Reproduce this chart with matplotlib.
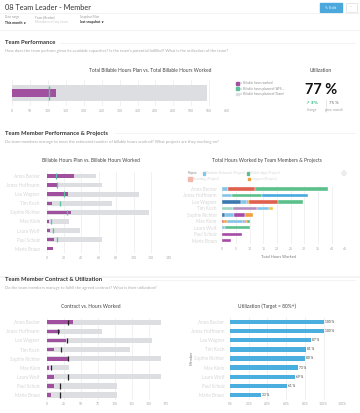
import numpy as np
import matplotlib
matplotlib.use('Agg')
import matplotlib.pyplot as plt
from matplotlib.patches import Rectangle

plt.rcParams['font.family'] = ['Lato', 'DejaVu Sans']

W, H = 360, 413

# ---- data ----
members = ['Anna Becker', 'Jonas Hoffmann', 'Lea Wagner', 'Tim Koch', 'Sophie Richter',
           'Max Klein', 'Laura Wolf', 'Paul Schulz', 'Marie Braun']

total_plan_team = 543
total_worked = 121
total_plan_wfs = 103
util_now = 77
util_change = 3
util_prev = 75

plan_hours = [57, 64, 106, 75, 118, 26, 38, 64, 0]
worked_hours = [31, 12, 24, 6, 28, 3, 4, 8, 7]
planned_wfs = [11, 12, 20, 15, 23, 5, 7, 12, np.nan]

project_names = ['Website Relaunch', 'Mobile App', 'Branding', 'Data Migration', 'Support',
                 'CRM Integration', 'Campaign', 'Analytics', 'Intranet', 'Shop']
project_colors = ['#86c5e8', '#5cbf8c', '#e0604f', '#3b78b0', '#f0a040',
                  '#a64ca6', '#9fd9c2', '#b68ec2', '#f5c842', '#4aa8e0']
# segments per member: project index and hours, left to right
seg_projects = [[0, 2, 1], [0, 1, 9], [3, 0, 4, 2, 1], [6, 7, 0, 8], [3, 0, 5, 4],
                [2, 4, 0, 7, 4, 1], [0, 1], [5], [5]]
seg_hours = [[2, 10, 26.5], [3.7, 11, 16.5], [6.8, 2.1, 1, 10.3, 9.4], [3.8, 9, 4.2, 1.4],
             [1, 3.1, 4.2, 2.8], [0.8, 0.9, 5.7, 0.8, 0.8, 1.0], [1, 9.2], [7.1], [3.0]]

contract_hours = [168, 82, 155, 122, 168, 33, 168, 104, 104]
hours_worked = [39, 19, 29, 10, 32, 3, 11, 11, 7]
contract_to_date = [32, 16, 30, 21, 32, 6, 32, 20, 20]

utilization = [100, 100, 87, 81, 80, 73, 69, 61, 33]

PURPLE = '#a0509e'
GREY_BAR = '#dcdee2'
GREEN = '#5cc09a'
TICK = '#a8a8a8'
NAME = '#d6d6d6'
TITLE_FS = 3.5

fig = plt.figure(figsize=(W / 100, H / 100), dpi=100)
fig.patch.set_facecolor('white')


def ax_px(x0, y0, x1, y1):
    return fig.add_axes([x0 / W, 1 - y1 / H, (x1 - x0) / W, (y1 - y0) / H])


def txt(x, y, s, **kw):
    kw.setdefault('va', 'center')
    return fig.text(x / W, 1 - y / H, s, **kw)


def hline(y, x0, x1, color='#eeeeee', lw=0.5):
    fig.add_artist(plt.Line2D([x0 / W, x1 / W], [1 - y / H, 1 - y / H], color=color, lw=lw))


def style(ax, xmax, step, fmt=None, names=True):
    for s in ax.spines.values():
        s.set_visible(False)
    ax.set_xlim(0, xmax)
    ticks = np.arange(0, xmax + 0.1, step)
    ax.set_xticks(ticks)
    if fmt:
        ax.set_xticklabels([fmt(t) for t in ticks])
    ax.tick_params(length=0, labelsize=2.5, colors=TICK, pad=2)
    ax.xaxis.grid(True, color='#ececec', lw=0.5)
    ax.set_axisbelow(True)
    if names:
        ax.set_ylim(8.5, -0.5)
        ax.set_yticks(range(len(members)))
        ax.set_yticklabels(members, color=NAME, fontsize=3.3)
        ax.tick_params(axis='y', pad=5)
    else:
        ax.set_yticks([])


# ---- header ----
txt(5, 7, '08 Team Leader - Member', fontsize=5.3, color='#333333')
fig.add_artist(Rectangle((320 / W, 1 - 12 / H), 22 / W, 9 / H, color='#4aa8dc'))
txt(331, 7.5, '✎ Edit', fontsize=2.6, color='white', ha='center', family=['DejaVu Sans'])
fig.add_artist(Rectangle((346 / W, 1 - 12 / H), 11 / W, 9 / H, fc='white', ec='#dddddd', lw=0.5))
txt(351.5, 7.5, '···', fontsize=2.5, color='#aaaaaa', ha='center')
hline(13, 0, 360)
for x, lab, val, vc in [(5, 'Date range', 'This month ∨', '#222222'),
                        (35, 'Team (Member)', 'Members of my team', NAME),
                        (80, 'Snapshot Filter', 'last snapshot ∨', '#222222')]:
    txt(x, 17, lab, fontsize=2.1, color='#999999')
    txt(x, 22.5, val, fontsize=2.4, color=vc, fontweight='bold')
hline(29.5, 0, 360)

# ---- section 1 ----
txt(5, 43, 'Team Performance', fontsize=4.2, color='#333333', fontweight='bold')
hline(43, 60, 355)
txt(5, 51, "How does the team perform given its available capacities? Is the team's potential "
           "fulfilled? What is the utilization of the team?", fontsize=2.95, color='#aaaaaa')

txt(150, 70.5, 'Total Billable Hours Plan vs. Total Billable Hours Worked',
    fontsize=TITLE_FS, color='#444444', ha='center')
ax1 = ax_px(12.3, 80, 227, 106)
ax1.barh(0, total_plan_team, height=1.18, color=GREY_BAR)
ax1.barh(0, total_worked, height=0.66, color=PURPLE)
ax1.vlines(total_plan_wfs, -0.55, 0.55, color=GREEN, lw=1.0)
ax1.set_ylim(-1, 1)
style(ax1, 600, 50, names=False)

leg_items = [(PURPLE, 'Billable hours worked'),
             (GREEN, 'Billable hours planned (WFS ...'),
             ('#dcdee2', 'Billable hours planned (Team)')]
for i, (c, lab) in enumerate(leg_items):
    y = 83.5 + i * 5.2
    fig.add_artist(Rectangle((236 / W, 1 - (y + 1.3) / H), 2.6 / W, 2.6 / H, color=c))
    txt(240, y, '⇧ ' + lab, fontsize=2.0, color='#888888', family=['DejaVu Sans'])

txt(321, 71, 'Utilization', fontsize=TITLE_FS, color='#444444', ha='center')
txt(321, 89.5, f'{util_now} %', fontsize=10.5, color='#111111', ha='center', fontweight='bold')
txt(312, 103.5, f'↗ {util_change}%', fontsize=3.0, color='#3fbf86', ha='center',
    fontweight='bold', family=['DejaVu Sans'])
txt(312, 110, 'change', fontsize=2.3, color='#999999', ha='center')
fig.add_artist(plt.Line2D([325.7 / W] * 2, [1 - 100 / H, 1 - 112 / H], color='#dddddd', lw=0.5))
txt(334, 103.5, f'{util_prev} %', fontsize=3.2, color='#666666', ha='center')
txt(334, 110, 'prev. month', fontsize=2.3, color='#999999', ha='center')

# ---- section 2 ----
txt(5, 133.3, 'Team Member Performance & Projects', fontsize=4.2, color='#333333', fontweight='bold')
hline(133.3, 115, 355)
txt(5, 141.5, 'Do team members manage to meet the estimated number of billable hours worked? '
              'What projects are they working on?', fontsize=2.95, color='#aaaaaa')

txt(91, 160, 'Billable Hours Plan vs. Billable Hours Worked', fontsize=TITLE_FS, color='#444444',
    ha='center')
ax2 = ax_px(46.7, 171.5, 168.3, 253.2)
yy = np.arange(len(members))
ax2.barh(yy, plan_hours, height=0.52, color=GREY_BAR)
ax2.barh(yy, worked_hours, height=0.38, color=PURPLE)
for i, v in enumerate(planned_wfs):
    if not np.isnan(v):
        ax2.vlines(v, i - 0.3, i + 0.3, color=GREEN, lw=0.9)
style(ax2, 140, 20)

txt(267, 160, 'Total Hours Worked by Team Members & Projects', fontsize=TITLE_FS, color='#444444',
    ha='center')
txt(188, 173.3, 'Project:', fontsize=2.2, color='#888888')
leg_proj = [(0, 202.5, 173.3), (1, 246.5, 173.3), (2, 188, 179.2), (4, 248, 179.2)]
for p, x, y in leg_proj:
    sz = 3.6 if p == 2 else 2.4
    fig.add_artist(Rectangle((x / W, 1 - (y + sz / 2) / H), sz / W, sz / H,
                             color='#f3b8ad' if p == 2 else project_colors[p]))
    txt(x + sz + 1.5, y, project_names[p] + ' (Project)', fontsize=2.3, color=NAME)
fig.add_artist(plt.Circle((344 / W, 1 - 173.3 / H), 2.2 / W, fc='#eeeeee', ec='#dddddd', lw=0.3))

ax3 = ax_px(222.3, 185.8, 345.3, 244)
for i in range(len(members)):
    left = 0
    for p, h in zip(seg_projects[i], seg_hours[i]):
        ax3.barh(i, h, left=left, height=0.5, color=project_colors[p],
                 edgecolor='white', linewidth=0.25)
        left += h
style(ax3, 45, 5)
ax3.tick_params(axis='y', pad=4)
txt(278, 257.5, 'Total Hours Worked', fontsize=2.8, color='#777777', ha='center')

# ---- section 3 ----
hline(277, 0, 360, color='#f2f2f2', lw=1.2)
txt(5, 279.5, 'Team Member Contract & Utilization', fontsize=4.2, color='#333333', fontweight='bold')
hline(279.5, 110, 355)
txt(5, 288, 'Do the team members manage to fulfill the agreed contract? What is their utilization?',
    fontsize=2.95, color='#aaaaaa')

txt(91, 306.7, 'Contract vs. Hours Worked', fontsize=TITLE_FS, color='#444444', ha='center')
ax4 = ax_px(46.7, 317.8, 165.7, 399.5)
ax4.barh(yy, contract_hours, height=0.58, color=GREY_BAR)
ax4.barh(yy, hours_worked, height=0.42, color=PURPLE)
ax4.vlines(contract_to_date, yy - 0.3, yy + 0.3, color='#222222', lw=0.9)
style(ax4, 175, 25)

txt(266.7, 306.7, 'Utilization (Target = 80%+)', fontsize=TITLE_FS, color='#444444', ha='center')
ax5 = ax_px(230, 317.4, 342.3, 399.5)
ax5.barh(yy, utilization, height=0.48, color='#4aaedf')
for i, v in enumerate(utilization):
    ax5.text(v + 1, i, f'{v} %', fontsize=2.3, color='#333333', va='center')
style(ax5, 120, 20, fmt=lambda t: f'{int(t)}%')
ax5.tick_params(axis='y', pad=4)
txt(192, 358, 'Member', fontsize=2.8, color='#777777', rotation=90, ha='center')

fig.savefig('out.png', dpi=100)
